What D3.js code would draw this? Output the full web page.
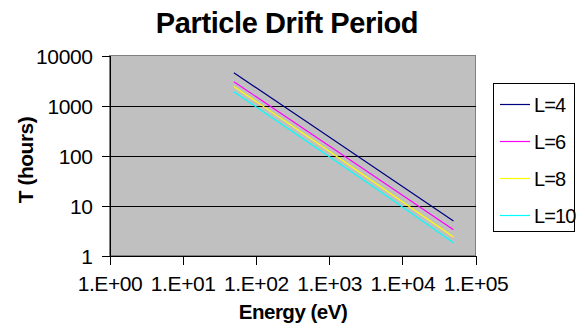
<!DOCTYPE html>
<html><head><meta charset="utf-8">
<script src="https://cdn.jsdelivr.net/npm/d3@7"></script>
<style>
html,body{margin:0;padding:0;background:#fff;}
text{font-family:Arial,"Liberation Sans",sans-serif;fill:#000;}
</style></head>
<body><svg id="c" width="585" height="333"></svg>
<script>
const energies = [50, 500, 5000, 50000];
const seriesNames = ["L=4", "L=6", "L=8", "L=10"];
const valuesL4 = [4500, 470, 48, 4.9];
const valuesL6 = [2980, 310, 32, 3.26];
const valuesL8 = [2400, 245, 24, 2.35];
const valuesL10 = [1880, 190, 19, 1.8];
const seriesColors = ["#000080", "#ff00ff", "#ffff00", "#00ffff"];
const xTicks = [1, 10, 100, 1000, 10000, 100000];
const xTickLabels = ["1.E+00","1.E+01","1.E+02","1.E+03","1.E+04","1.E+05"];
const yTicks = [1, 10, 100, 1000, 10000];
const yTickLabels = ["1","10","100","1000","10000"];

const allValues = [valuesL4, valuesL6, valuesL8, valuesL10];
const svg = d3.select("#c");
const L = 109.5, R = 475.5, T = 55.5, B = 255.5;
const x = d3.scaleLog().domain([1, 100000]).range([L, R]);
const y = d3.scaleLog().domain([1, 10000]).range([B, T]);
const FONT = "Arial, 'Liberation Sans', sans-serif";

svg.append("rect").attr("x", L).attr("y", T).attr("width", R-L).attr("height", B-T)
  .attr("fill", "#c0c0c0").attr("stroke", "#808080").attr("stroke-width", 1).attr("shape-rendering","crispEdges");

// gridlines
svg.append("g").selectAll("line").data(yTicks.slice(1, -1)).join("line")
  .attr("x1", L).attr("x2", R).attr("y1", d => Math.round(y(d)) + 0.5).attr("y2", d => Math.round(y(d)) + 0.5)
  .attr("stroke", "#000").attr("shape-rendering","crispEdges");

// axes
const xAxis = d3.axisBottom(x).tickValues(xTicks).tickFormat((d,i) => xTickLabels[i]).tickSize(9).tickSizeOuter(0);
const gx = svg.append("g").attr("transform", `translate(0,${B})`).call(xAxis);
gx.select(".domain").attr("stroke", "#000").attr("shape-rendering","crispEdges");
gx.selectAll(".tick line").attr("stroke","#000").attr("shape-rendering","crispEdges");
gx.selectAll(".tick text").attr("font-size", 21).attr("font-family", FONT).attr("dy", null).attr("y", 35).attr("letter-spacing", "-0.4px");

const yAxis = d3.axisLeft(y).tickValues(yTicks).tickFormat((d,i) => yTickLabels[i]).tickSize(8).tickSizeOuter(0);
const gy = svg.append("g").attr("transform", `translate(${L},0)`).call(yAxis);
gy.select(".domain").attr("stroke", "#000").attr("shape-rendering","crispEdges");
gy.selectAll(".tick line").attr("stroke","#000").attr("shape-rendering","crispEdges");
gy.selectAll(".tick text").attr("font-size", 21).attr("font-family", FONT).attr("x", -17).attr("dy", "0.36em").attr("letter-spacing", "-0.4px");

// series
const line = d3.line().x((d,i) => x(energies[i])).y(d => y(d));
allValues.forEach((vals, k) => {
  svg.append("path").datum(vals).attr("d", line).attr("fill","none")
    .attr("stroke", seriesColors[k]).attr("stroke-width", 1.2);
});

// titles
svg.append("text").attr("x", 287).attr("y", 33).attr("text-anchor","middle")
  .attr("font-size", 29).attr("font-weight","bold").attr("letter-spacing","-0.4px").text("Particle Drift Period");
svg.append("text").attr("x", 293).attr("y", 319).attr("text-anchor","middle")
  .attr("font-size", 20.5).attr("font-weight","bold").attr("letter-spacing","-0.5px").text("Energy (eV)");
svg.append("text").attr("transform","translate(33,160) rotate(-90)").attr("text-anchor","middle")
  .attr("font-size", 21).attr("font-weight","bold").attr("letter-spacing","-0.5px").text("T (hours)");

// legend
const lg = svg.append("g");
lg.append("rect").attr("x", 493.5).attr("y", 83.5).attr("width", 81).attr("height", 148)
  .attr("fill","#fff").attr("stroke","#000").attr("shape-rendering","crispEdges");
const ly = d3.scalePoint().domain(seriesNames).range([104.5, 215.5]);
seriesNames.forEach((n, k) => {
  lg.append("line").attr("x1", 500).attr("x2", 530).attr("y1", ly(n)).attr("y2", ly(n))
    .attr("stroke", seriesColors[k]).attr("stroke-width", 1.2);
  lg.append("text").attr("x", 534).attr("y", ly(n)).attr("dy","0.36em")
    .attr("font-size", 20).attr("letter-spacing","-0.9px").text(n);
});
</script></body></html>
